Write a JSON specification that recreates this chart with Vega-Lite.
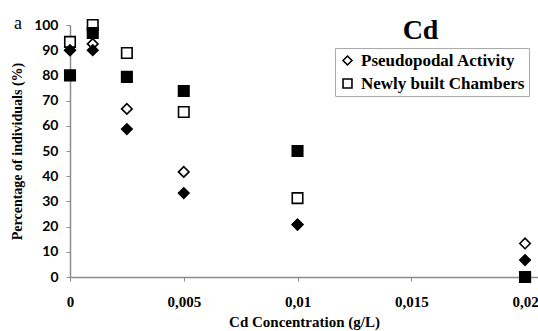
{
  "$schema": "https://vega.github.io/schema/vega-lite/v6.json",
  "width": 468,
  "height": 252,
  "autosize": {"type": "none"},
  "padding": {"left": 70, "top": 25, "right": 0, "bottom": 54},
  "background": "white",
  "title": {"text": "Cd", "anchor": "start", "dx": 392, "dy": 34, "font": "Liberation Serif", "fontSize": 28, "fontWeight": "bold", "color": "black"},
  "config": {
    "view": {"stroke": null},
    "legend": {"symbolFillColor": "white", "symbolStrokeColor": "black"}
  },
  "resolve": {"axis": {"x": "independent", "y": "independent"}},
  "layer": [
    {
      "data": {
        "values": [
          {"c": 0, "v": 90, "measure": "Pseudopodal Activity", "set": "open"},
          {"c": 0.001, "v": 92.5, "measure": "Pseudopodal Activity", "set": "open"},
          {"c": 0.0025, "v": 66.7, "measure": "Pseudopodal Activity", "set": "open"},
          {"c": 0.005, "v": 41.7, "measure": "Pseudopodal Activity", "set": "open"},
          {"c": 0.01, "v": 20.8, "measure": "Pseudopodal Activity", "set": "open"},
          {"c": 0.02, "v": 13.3, "measure": "Pseudopodal Activity", "set": "open"},
          {"c": 0, "v": 93.3, "measure": "Newly built Chambers", "set": "open"},
          {"c": 0.001, "v": 100, "measure": "Newly built Chambers", "set": "open"},
          {"c": 0.0025, "v": 88.9, "measure": "Newly built Chambers", "set": "open"},
          {"c": 0.005, "v": 65.5, "measure": "Newly built Chambers", "set": "open"},
          {"c": 0.01, "v": 31.3, "measure": "Newly built Chambers", "set": "open"},
          {"c": 0.02, "v": 0, "measure": "Newly built Chambers", "set": "open"},
          {"c": 0, "v": 90, "measure": "Pseudopodal Activity", "set": "filled"},
          {"c": 0.001, "v": 90, "measure": "Pseudopodal Activity", "set": "filled"},
          {"c": 0.0025, "v": 58.7, "measure": "Pseudopodal Activity", "set": "filled"},
          {"c": 0.005, "v": 33.3, "measure": "Pseudopodal Activity", "set": "filled"},
          {"c": 0.01, "v": 20.8, "measure": "Pseudopodal Activity", "set": "filled"},
          {"c": 0.02, "v": 6.7, "measure": "Pseudopodal Activity", "set": "filled"},
          {"c": 0, "v": 80, "measure": "Newly built Chambers", "set": "filled"},
          {"c": 0.001, "v": 96.8, "measure": "Newly built Chambers", "set": "filled"},
          {"c": 0.0025, "v": 79.4, "measure": "Newly built Chambers", "set": "filled"},
          {"c": 0.005, "v": 73.8, "measure": "Newly built Chambers", "set": "filled"},
          {"c": 0.01, "v": 50, "measure": "Newly built Chambers", "set": "filled"},
          {"c": 0.02, "v": 0, "measure": "Newly built Chambers", "set": "filled"}
        ]
      },
      "mark": {"type": "point", "filled": true, "stroke": "black", "strokeWidth": 1.6, "size": 110, "opacity": 1, "clip": false},
      "encoding": {
        "x": {
          "field": "c", "type": "quantitative",
          "scale": {"domain": [0, 0.02057], "nice": false},
          "axis": {
            "title": "Cd Concentration (g/L)",
            "values": [0, 0.005, 0.01, 0.015, 0.02],
            "labelExpr": "replace(datum.value + '', '.', ',')",
            "labelFont": "Liberation Serif", "labelFontWeight": "bold", "labelFontSize": 15, "labelColor": "black",
            "labelPadding": 13, "labelOverlap": false, "labelFlush": false,
            "titleFont": "Liberation Serif", "titleFontWeight": "bold", "titleFontSize": 15, "titleColor": "black",
            "titlePadding": 5,
            "domainColor": "#8c8c8c", "domainWidth": 1.5,
            "tickColor": "#8c8c8c", "tickSize": 4, "grid": false
          }
        },
        "y": {
          "field": "v", "type": "quantitative",
          "scale": {"domain": [0, 100], "nice": false},
          "axis": {
            "title": "Percentage of individuals (%)",
            "values": [0, 10, 20, 30, 40, 50, 60, 70, 80, 90, 100],
            "labelFont": "Lato", "labelFontWeight": "bold", "labelFontSize": 14, "labelColor": "black",
            "labelPadding": 8, "labelOverlap": false,
            "titleFont": "Liberation Serif", "titleFontWeight": "bold", "titleFontSize": 14, "titleColor": "black",
            "titlePadding": 9,
            "domainColor": "#8c8c8c", "domainWidth": 1.5,
            "tickColor": "#8c8c8c", "tickSize": 4, "grid": false
          }
        },
        "shape": {
          "field": "measure", "type": "nominal",
          "scale": {"domain": ["Pseudopodal Activity", "Newly built Chambers"], "range": ["diamond", "square"]},
          "legend": {
            "title": null, "orient": "none", "legendX": 265, "legendY": 23,
            "strokeColor": "#aaaaaa", "fillColor": "white", "padding": 4,
            "labelFont": "Liberation Serif", "labelFontWeight": "bold", "labelFontSize": 17, "labelColor": "black",
            "labelLimit": 300,
            "symbolSize": 80, "symbolStrokeWidth": 1.6, "symbolFillColor": "white", "symbolStrokeColor": "black",
            "rowPadding": 5, "labelOffset": 5
          }
        },
        "fill": {
          "field": "set", "type": "nominal",
          "scale": {"domain": ["open", "filled"], "range": ["white", "black"]},
          "legend": null
        }
      }
    },
    {
      "data": {"values": [{"label": "a"}]},
      "mark": {"type": "text", "font": "Liberation Serif", "fontSize": 18, "align": "center", "baseline": "middle", "dx": -52, "dy": -1, "color": "black", "clip": false},
      "encoding": {
        "x": {"datum": 0, "type": "quantitative", "axis": null},
        "y": {"datum": 100, "type": "quantitative", "axis": null},
        "text": {"field": "label"}
      }
    }
  ]
}
